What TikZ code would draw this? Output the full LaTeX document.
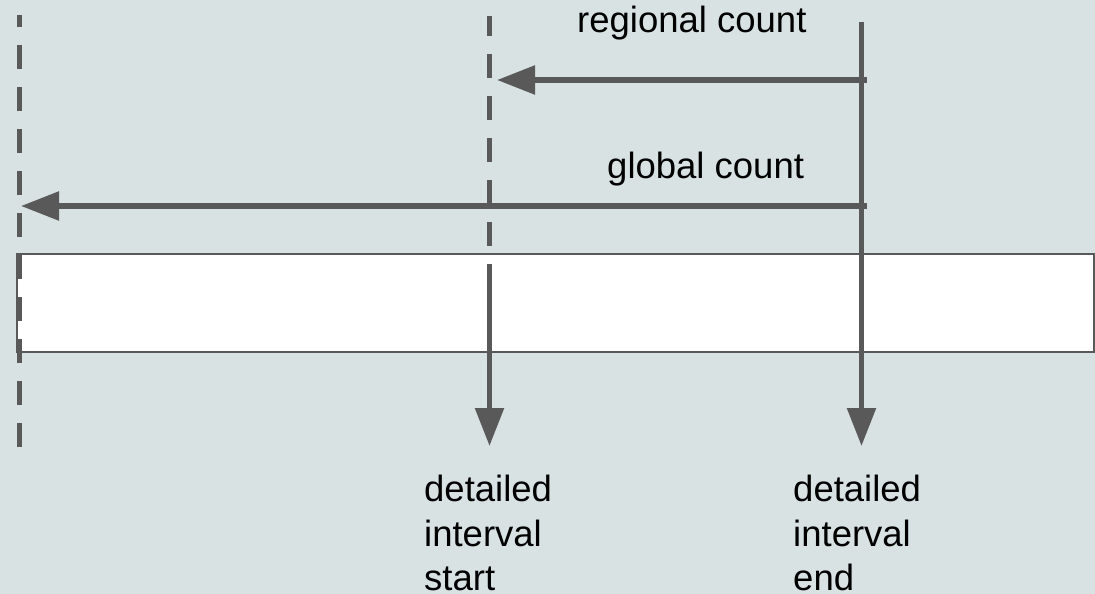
\documentclass[tikz,border=0pt]{standalone}
\usepackage{fontspec}
\setmainfont{Liberation Sans}
\usetikzlibrary{arrows.meta}
\definecolor{bg}{HTML}{D9E2E3}
\definecolor{ln}{HTML}{595959}
\begin{document}
\begin{tikzpicture}[x=1pt,y=-1pt,
  line/.style={draw=ln,line width=5.5pt},
  arr/.style={line,-{Triangle[length=38pt,width=28pt]}},
  dashln/.style={draw=ln,line width=5pt,dash pattern=on 24pt off 18pt},
  lbl/.style={font=\fontsize{36.5}{44.5}\selectfont,inner sep=0pt,text=black,align=left}]
\fill[bg] (0,0) rectangle (1095,594);
\useasboundingbox (0,0) rectangle (1095,594);
% bar
\node[draw=ln,line width=2pt,fill=white,inner sep=0pt,minimum width=1077pt,minimum height=98pt] (bar) at (555.5,302.5) {};
% coordinates
\coordinate (ltop) at (19.5,15);
\coordinate (lbot) at (19.5,447);
\coordinate (mtop) at (489.5,16);
\coordinate (mmid) at (489.5,246);
\coordinate (mstart) at (489.5,264);
\coordinate (mtip) at (489.5,446);
\coordinate (rtop) at (861.5,22);
\coordinate (rtip) at (861.5,446);
\coordinate (rreg) at (866.5,80);
\coordinate (regtip) at (497,80);
\coordinate (rglob) at (866.5,206);
\coordinate (globtip) at (21,206);
% dashed lines
\draw[dashln,dash phase=12pt] (ltop) -- (lbot);
\draw[dashln,dash phase=4pt] (mtop) -- (mmid);
% arrows
\draw[arr] (mstart) -- (mtip);
\draw[arr] (rtop) -- (rtip);
\draw[arr] (rreg) -- (regtip);
\draw[arr] (rglob) -- (globtip);
% labels
\node[lbl,anchor=base west] (reg) at (577,33) {regional count};
\node[lbl,anchor=base west] (glob) at (607,178) {global count};
\node[lbl,anchor=north west] (dstart) at (424,475) {detailed\\interval\\start};
\node[lbl,anchor=north west] (dend) at (793,475) {detailed\\interval\\end};
\end{tikzpicture}
\end{document}
